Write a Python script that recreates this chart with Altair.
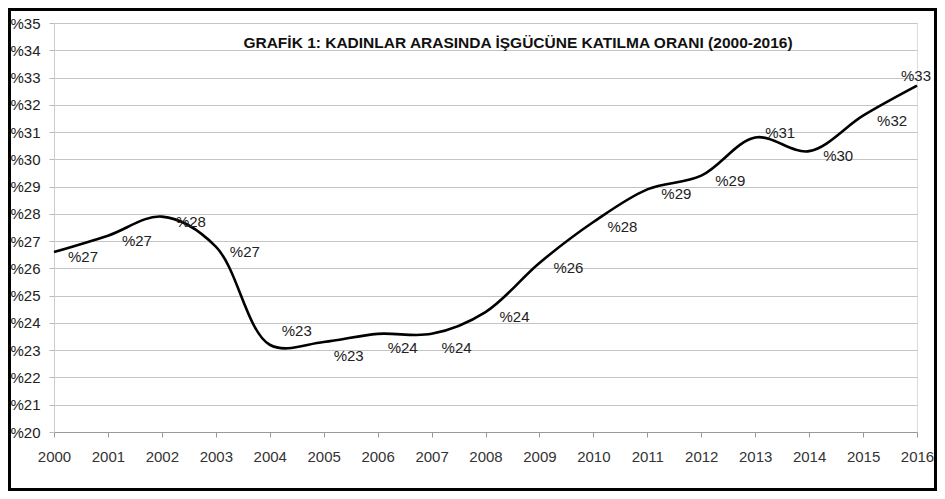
import altair as alt
import pandas as pd

years = list(range(2000, 2017))
rates = [26.6, 27.2, 27.9, 26.8, 23.2, 23.3, 23.6, 23.6, 24.4, 26.2,
         27.7, 28.9, 29.4, 30.8, 30.3, 31.6, 32.7]
y_ticks = list(range(20, 36))
title_text = "GRAFİK 1: KADINLAR ARASINDA İŞGÜCÜNE KATILMA ORANI (2000-2016)"

df = pd.DataFrame({"year": years, "rate": rates})

W, H = 863, 409
FONT = "Liberation Sans"

x_enc = alt.X("year:Q", scale=alt.Scale(domain=[2000, 2016], nice=False),
              axis=alt.Axis(values=years, format="d", title=None, grid=False,
                            labelFontSize=15, labelColor="#333333", labelPadding=12,
                            labelFlush=False, labelOverlap=False,
                            tickSize=5, tickColor="#999999", domainColor="#999999",
                            labelFont=FONT))
y_enc = alt.Y("rate:Q", scale=alt.Scale(domain=[20, 35], nice=False, zero=False),
              axis=alt.Axis(values=y_ticks, tickCount=16, labelExpr="'%' + datum.value",
                            title=None, grid=True, gridColor="#c4c4c4", gridWidth=1.2,
                            labelFlush=False, labelOverlap=False,
                            labelFontSize=15, labelColor="#222222", labelPadding=9,
                            tickSize=5, tickColor="#bbbbbb", domainColor="#cccccc",
                            labelFont=FONT))

base = alt.Chart(df)

line = base.mark_line(interpolate="catmull-rom", color="black", strokeWidth=2.6).encode(
    x=x_enc, y=y_enc)

lab = base.transform_calculate(lbl="'%' + format(datum.rate, '.0f')")

def labels(sel, dx, dy):
    return lab.transform_filter(
        alt.FieldOneOfPredicate(field="year", oneOf=sel)
    ).mark_text(align="left", baseline="middle", dx=dx, dy=dy, fontSize=15,
                font=FONT, color="#222222").encode(
        x=x_enc, y=y_enc, text="lbl:N")

default_years = [2000, 2001, 2002, 2003, 2008, 2009, 2010, 2011, 2012, 2014, 2015]
t1 = labels(default_years, 14, 5)
t2 = labels([2004], 12, -14)
t3 = labels([2005, 2006, 2007], 10, 14)
t4 = labels([2013], 10, -5)
t5 = labels([2016], -16, -10)

one = alt.Chart(pd.DataFrame({"a": [0]}))
title = one.mark_text(text=title_text, fontSize=15.5, fontWeight="bold", font=FONT,
                      color="#111111", align="center", baseline="middle").encode(
    x=alt.value(464), y=alt.value(20))

frame = one.mark_rect(filled=False, stroke="black", strokeWidth=3, clip=False).encode(
    x=alt.value(-44.5), x2=alt.value(881.5), y=alt.value(-13.5), y2=alt.value(466.5))

chart = alt.layer(line, t1, t2, t3, t4, t5, title, frame).properties(
    width=W, height=H,
    autosize=alt.AutoSizeParams(type="none"),
    padding={"left": 46, "top": 15, "right": 20, "bottom": 59},
).configure_view(stroke=None).configure(background="white")

chart.save("out.html", embed_options={"renderer": "svg", "actions": False})
